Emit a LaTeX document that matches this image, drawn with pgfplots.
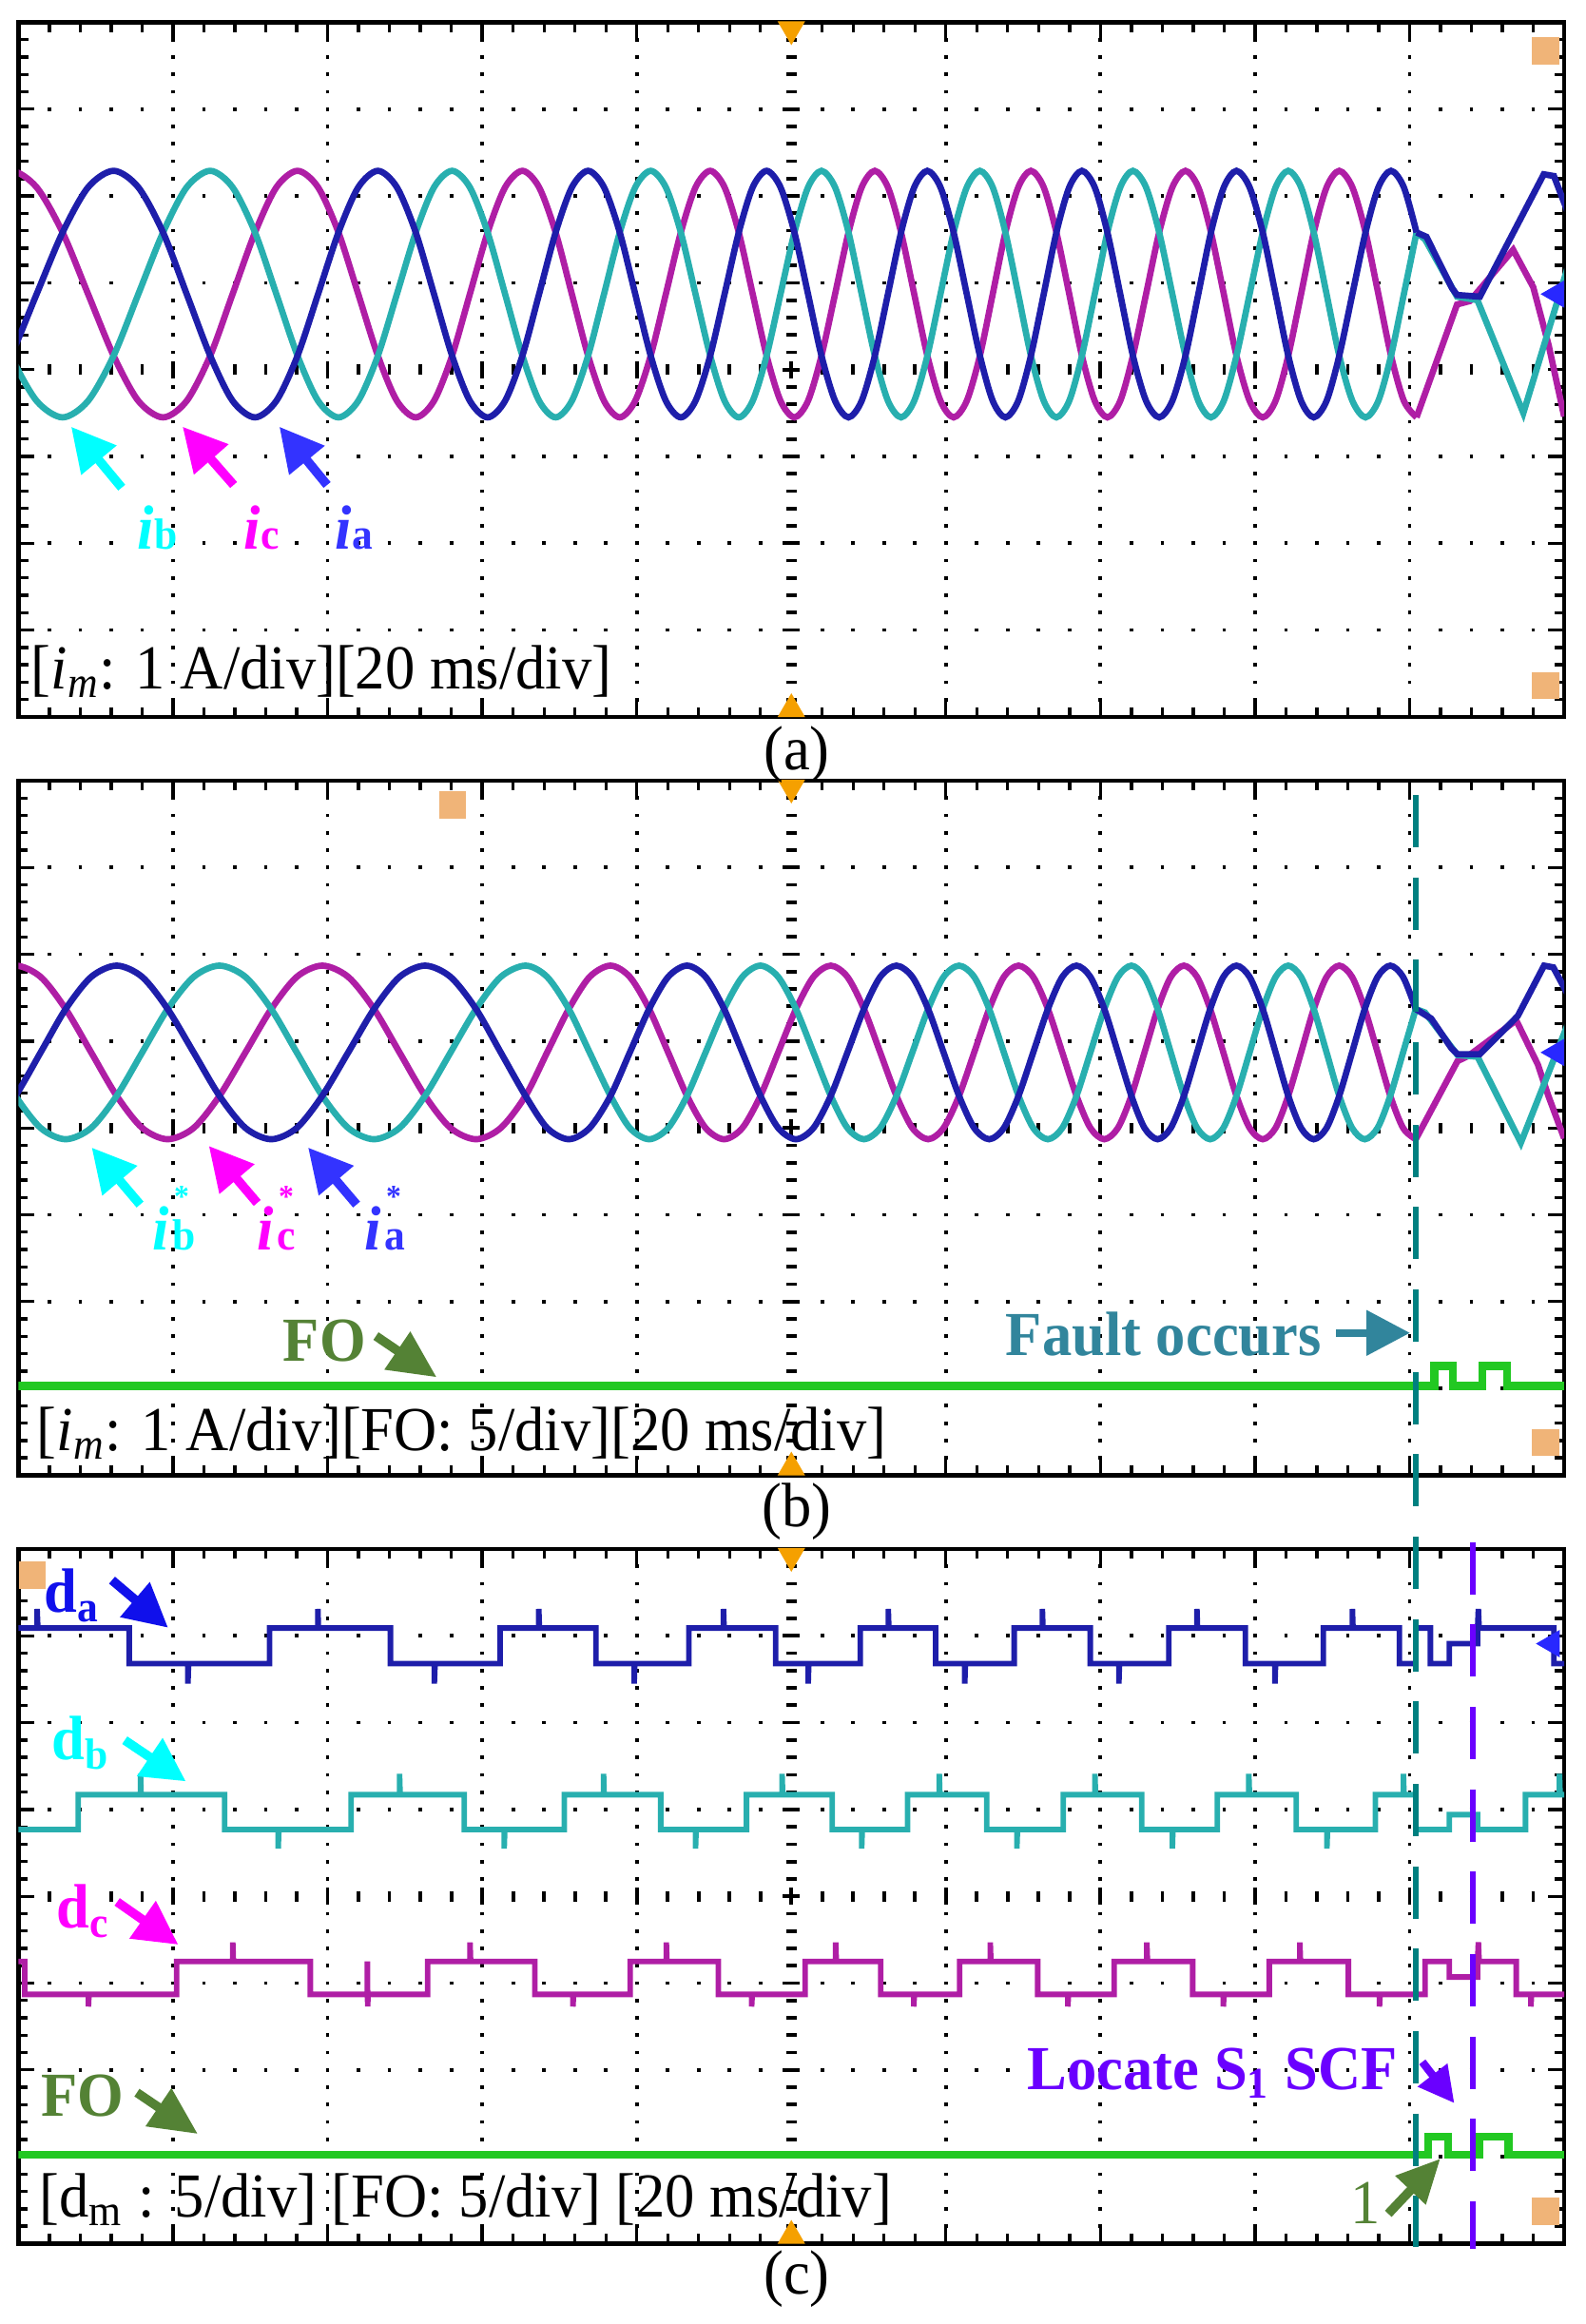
\documentclass[border=0pt]{standalone}
\usepackage{pgfplots}
\pgfplotsset{compat=1.18}
\usepackage{pgfplotstable}
\usetikzlibrary{arrows.meta}
\usepackage{fontspec}
\setmainfont{Liberation Serif}[FakeStretch=0.95]
\newcommand\fsz{\fontsize{15.8}{18}\selectfont}
\newcommand\ssz{\fontsize{11}{12}\selectfont}
\newcommand\tsz{\fontsize{8}{9}\selectfont}
\definecolor{tra}{RGB}{30,30,170}
\definecolor{trb}{RGB}{40,175,175}
\definecolor{trc}{RGB}{175,30,165}
\definecolor{fo}{RGB}{34,200,34}
\definecolor{lbla}{RGB}{51,51,255}
\definecolor{lblb}{RGB}{0,255,255}
\definecolor{lblc}{RGB}{255,0,255}
\definecolor{dla}{RGB}{16,16,235}
\definecolor{olivec}{RGB}{84,130,53}
\definecolor{faultc}{RGB}{49,133,156}
\definecolor{teald}{RGB}{0,128,128}
\definecolor{purp}{RGB}{106,0,255}
\definecolor{orng}{RGB}{245,160,0}
\definecolor{lorng}{RGB}{240,180,120}
\definecolor{gmark}{RGB}{40,40,255}

\pgfplotstableread{
t a b c
-0.22 3.64 4.87 6.10
-0.05 4.16 4.16 6.29
0.117 4.87 3.64 6.10
0.285 5.58 3.45 5.58
0.45 6.10 3.64 4.87
0.615 6.29 4.16 4.16
0.775 6.10 4.87 3.64
0.935 5.58 5.58 3.45
1.088 4.87 6.10 3.64
1.24 4.16 6.29 4.16
1.385 3.64 6.10 4.87
1.53 3.45 5.58 5.58
1.668 3.64 4.87 6.10
1.805 4.16 4.16 6.29
1.938 4.87 3.64 6.10
2.07 5.58 3.45 5.58
2.198 6.10 3.64 4.87
2.325 6.29 4.16 4.16
2.448 6.10 4.87 3.64
2.57 5.58 5.58 3.45
2.688 4.87 6.10 3.64
2.805 4.16 6.29 4.16
2.92 3.64 6.10 4.87
3.035 3.45 5.58 5.58
3.148 3.64 4.87 6.10
3.26 4.16 4.16 6.29
3.368 4.87 3.64 6.10
3.475 5.58 3.45 5.58
3.58 6.10 3.64 4.87
3.685 6.29 4.16 4.16
3.788 6.10 4.87 3.64
3.89 5.58 5.58 3.45
3.99 4.87 6.10 3.64
4.09 4.16 6.29 4.16
4.188 3.64 6.10 4.87
4.285 3.45 5.58 5.58
4.38 3.64 4.87 6.10
4.475 4.16 4.16 6.29
4.568 4.87 3.64 6.10
4.66 5.58 3.45 5.58
4.75 6.10 3.64 4.87
4.84 6.29 4.16 4.16
4.93 6.10 4.87 3.64
5.02 5.58 5.58 3.45
5.108 4.87 6.10 3.64
5.195 4.16 6.29 4.16
5.283 3.64 6.10 4.87
5.37 3.45 5.58 5.58
5.455 3.64 4.87 6.10
5.54 4.16 4.16 6.29
5.625 4.87 3.64 6.10
5.71 5.58 3.45 5.58
5.795 6.10 3.64 4.87
5.88 6.29 4.16 4.16
5.965 6.10 4.87 3.64
6.05 5.58 5.58 3.45
6.135 4.87 6.10 3.64
6.22 4.16 6.29 4.16
6.303 3.64 6.10 4.87
6.385 3.45 5.58 5.58
6.468 3.64 4.87 6.10
6.55 4.16 4.16 6.29
6.633 4.87 3.64 6.10
6.715 5.58 3.45 5.58
6.798 6.10 3.64 4.87
6.88 6.29 4.16 4.16
6.963 6.10 4.87 3.64
7.045 5.58 5.58 3.45
7.128 4.87 6.10 3.64
7.21 4.16 6.29 4.16
7.295 3.64 6.10 4.87
7.38 3.45 5.58 5.58
7.465 3.64 4.87 6.10
7.55 4.16 4.16 6.29
7.633 4.87 3.64 6.10
7.715 5.58 3.45 5.58
7.798 6.10 3.64 4.87
7.88 6.29 4.16 4.16
7.965 6.10 4.87 3.64
8.05 5.58 5.58 3.45
8.133 4.87 6.10 3.64
8.215 4.16 6.29 4.16
8.298 3.64 6.10 4.87
8.38 3.45 5.58 5.58
8.463 3.64 4.87 6.10
8.545 4.16 4.16 6.29
8.63 4.87 3.64 6.10
8.715 5.58 3.45 5.58
8.798 6.10 3.64 4.87
8.88 6.29 4.16 4.16
8.963 6.10 4.87 3.64
9.045 5.58 5.58 3.45
}\tabA

\pgfplotstableread{
t a b c
-0.185 4.00 4.87 5.74
-0.02 4.37 4.37 5.87
0.143 4.87 4.00 5.74
0.305 5.37 3.87 5.37
0.47 5.74 4.00 4.87
0.635 5.87 4.37 4.37
0.80 5.74 4.87 4.00
0.965 5.37 5.37 3.87
1.133 4.87 5.74 4.00
1.30 4.37 5.87 4.37
1.468 4.00 5.74 4.87
1.635 3.87 5.37 5.37
1.80 4.00 4.87 5.74
1.965 4.37 4.37 5.87
2.133 4.87 4.00 5.74
2.30 5.37 3.87 5.37
2.465 5.74 4.00 4.87
2.63 5.87 4.37 4.37
2.795 5.74 4.87 4.00
2.96 5.37 5.37 3.87
3.12 4.87 5.74 4.00
3.28 4.37 5.87 4.37
3.42 4.00 5.74 4.87
3.56 3.87 5.37 5.37
3.695 4.00 4.87 5.74
3.83 4.37 4.37 5.87
3.955 4.87 4.00 5.74
4.08 5.37 3.87 5.37
4.203 5.74 4.00 4.87
4.325 5.87 4.37 4.37
4.445 5.74 4.87 4.00
4.565 5.37 5.37 3.87
4.683 4.87 5.74 4.00
4.80 4.37 5.87 4.37
4.915 4.00 5.74 4.87
5.03 3.87 5.37 5.37
5.143 4.00 4.87 5.74
5.255 4.37 4.37 5.87
5.363 4.87 4.00 5.74
5.47 5.37 3.87 5.37
5.575 5.74 4.00 4.87
5.68 5.87 4.37 4.37
5.783 5.74 4.87 4.00
5.885 5.37 5.37 3.87
5.985 4.87 5.74 4.00
6.085 4.37 5.87 4.37
6.183 4.00 5.74 4.87
6.28 3.87 5.37 5.37
6.375 4.00 4.87 5.74
6.47 4.37 4.37 5.87
6.565 4.87 4.00 5.74
6.66 5.37 3.87 5.37
6.753 5.74 4.00 4.87
6.845 5.87 4.37 4.37
6.935 5.74 4.87 4.00
7.025 5.37 5.37 3.87
7.113 4.87 5.74 4.00
7.20 4.37 5.87 4.37
7.285 4.00 5.74 4.87
7.37 3.87 5.37 5.37
7.455 4.00 4.87 5.74
7.54 4.37 4.37 5.87
7.625 4.87 4.00 5.74
7.71 5.37 3.87 5.37
7.795 5.74 4.00 4.87
7.88 5.87 4.37 4.37
7.965 5.74 4.87 4.00
8.05 5.37 5.37 3.87
8.133 4.87 5.74 4.00
8.215 4.37 5.87 4.37
8.298 4.00 5.74 4.87
8.38 3.87 5.37 5.37
8.463 4.00 4.87 5.74
8.545 4.37 4.37 5.87
8.628 4.87 4.00 5.74
8.71 5.37 3.87 5.37
8.793 5.74 4.00 4.87
8.875 5.87 4.37 4.37
8.958 5.74 4.87 4.00
9.04 5.37 5.37 3.87
}\tabB

\pgfplotsset{osc/.style={scale only axis, width=390.12pt, height=175.3pt,
  xmin=0, xmax=10, ymin=0, ymax=8,
  xtick={0,...,10}, ytick={0,...,8}, minor x tick num=4, minor y tick num=4,
  xticklabels={}, yticklabels={}, tick align=inside, tick pos=both,
  major tick length=4pt, minor tick length=2.4pt,
  tick style={black, line width=0.8pt},
  axis line style={line width=1.1pt, black},
  anchor=north west}}

\newcommand\oscgrid{%
 \pgfplotsinvokeforeach{1,2,3,4,6,7,8,9}{\draw[line width=0.9pt, dash pattern=on 0.9pt off 3.4825pt, dash phase=0.45pt] (axis cs:##1,0) -- (axis cs:##1,8);}
 \pgfplotsinvokeforeach{1,2,3,5,6,7}{\draw[line width=0.9pt, dash pattern=on 0.9pt off 6.9024pt, dash phase=0.45pt] (axis cs:0,##1) -- (axis cs:10,##1);}
 \draw[line width=2.6pt, dash pattern=on 0.9pt off 6.9024pt, dash phase=0.45pt] (axis cs:0,4) -- (axis cs:10,4);
 \draw[line width=4.4pt, dash pattern=on 0.9pt off 38.112pt, dash phase=0.45pt] (axis cs:0,4) -- (axis cs:10,4);
 \draw[line width=2.6pt, dash pattern=on 0.9pt off 3.4825pt, dash phase=0.45pt] (axis cs:5,0) -- (axis cs:5,8);
 \draw[line width=4.4pt, dash pattern=on 0.9pt off 21.0125pt, dash phase=0.45pt] (axis cs:5,0) -- (axis cs:5,8);
}
\pgfplotsset{
 trig/.style={only marks, mark=triangle*, mark size=3.6pt, mark options={fill=orng, draw=orng}},
 trigd/.style={only marks, mark=triangle*, mark size=3.6pt, mark options={fill=orng, draw=orng, rotate=180}},
 boxm/.style={only marks, mark=square*, mark size=3.2pt, mark options={fill=lorng, draw=lorng}},
 gnd/.style={only marks, mark=triangle*, mark size=3.6pt, mark options={fill=gmark, draw=gmark, rotate=90}},
}

\begin{document}
\begin{tikzpicture}
\path[use as bounding box] (0,0) rectangle (400.08pt,-586.56pt);

% ---------------- panel (a)
\begin{axis}[osc, at={(4.68pt,-5.64pt)}]
\oscgrid
\addplot[trc, line width=1.6pt, smooth] table[x=t,y=c]{\tabA};
\addplot[trc, line width=1.6pt] coordinates {(9.045,3.45)(9.307,4.75)(9.39,4.79)(9.67,5.38)(9.80,4.95)(9.90,4.28)(10.0,3.46)};
\addplot[trb, line width=1.6pt, smooth] table[x=t,y=b]{\tabA};
\addplot[trb, line width=1.6pt] coordinates {(9.045,5.58)(9.10,5.50)(9.307,4.84)(9.439,4.80)(9.736,3.50)(10.02,5.16)};
\addplot[tra, line width=1.6pt, smooth] table[x=t,y=a]{\tabA};
\addplot[tra, line width=1.6pt] coordinates {(9.045,5.58)(9.109,5.53)(9.274,4.94)(9.307,4.86)(9.455,4.84)(9.868,6.25)(9.934,6.23)(10.02,5.83)};
\addplot[trigd] coordinates {(5,7.92)};
\addplot[trig] coordinates {(5,0.09)};
\addplot[boxm] coordinates {(9.88,7.67)(9.88,0.36)};
\addplot[gnd] coordinates {(9.95,4.87)};
\end{axis}

% ---------------- panel (b)
\begin{axis}[osc, at={(4.68pt,-197.04pt)}]
\oscgrid
\addplot[trc, line width=1.6pt, smooth] table[x=t,y=c]{\tabB};
\addplot[trc, line width=1.6pt] coordinates {(9.04,3.87)(9.31,4.77)(9.38,4.83)(9.69,5.24)(9.83,4.73)(9.90,4.36)(10.0,3.88)};
\addplot[trb, line width=1.6pt, smooth] table[x=t,y=b]{\tabB};
\addplot[trb, line width=1.6pt] coordinates {(9.04,5.37)(9.10,5.33)(9.31,4.84)(9.44,4.82)(9.72,3.83)(10.02,5.18)};
\addplot[tra, line width=1.6pt, smooth] table[x=t,y=a]{\tabB};
\addplot[tra, line width=1.6pt] coordinates {(9.04,5.37)(9.14,5.26)(9.27,4.92)(9.31,4.85)(9.455,4.85)(9.70,5.29)(9.87,5.87)(9.93,5.85)(10.02,5.55)};
\addplot[fo, line width=2pt] coordinates {(0,1.03)(9.16,1.03)(9.16,1.26)(9.28,1.26)(9.28,1.03)(9.47,1.03)(9.47,1.26)(9.63,1.26)(9.63,1.03)(10,1.03)};
\addplot[trigd] coordinates {(5,7.92)};
\addplot[trig] coordinates {(5,0.09)};
\addplot[boxm] coordinates {(2.81,7.72)(9.88,0.38)};
\addplot[gnd] coordinates {(9.95,4.87)};
\end{axis}

% ---------------- panel (c)
\begin{axis}[osc, at={(4.68pt,-390.96pt)}]
\oscgrid
\addplot[tra, line width=1.4pt] coordinates {(0,7.09)(0.12,7.09)(0.12,7.31)(0.125,7.09)(0.716,7.09)(0.716,6.68)(1.096,6.68)(1.096,6.45)(1.10,6.68)(1.624,6.68)(1.624,7.09)(1.937,7.09)(1.937,7.31)(1.94,7.09)(2.406,7.09)(2.406,6.68)(2.69,6.68)(2.69,6.45)(2.695,6.68)(3.116,6.68)(3.116,7.09)(3.366,7.09)(3.366,7.31)(3.37,7.09)(3.736,7.09)(3.736,6.68)(3.983,6.68)(3.983,6.45)(3.987,6.68)(4.337,6.68)(4.337,7.09)(4.561,7.09)(4.561,7.31)(4.565,7.09)(4.898,7.09)(4.898,6.68)(5.109,6.68)(5.109,6.45)(5.113,6.68)(5.446,6.68)(5.446,7.09)(5.627,7.09)(5.627,7.31)(5.631,7.09)(5.934,7.09)(5.934,6.68)(6.122,6.68)(6.122,6.45)(6.126,6.68)(6.442,6.68)(6.442,7.09)(6.624,7.09)(6.624,7.31)(6.628,7.09)(6.934,7.09)(6.934,6.68)(7.119,6.68)(7.119,6.45)(7.123,6.68)(7.442,6.68)(7.442,7.09)(7.624,7.09)(7.624,7.31)(7.628,7.09)(7.937,7.09)(7.937,6.68)(8.129,6.68)(8.129,6.45)(8.133,6.68)(8.442,6.68)(8.442,7.09)(8.63,7.09)(8.63,7.31)(8.634,7.09)(8.934,7.09)(8.934,6.68)(9.04,6.68)(9.04,7.09)(9.135,7.09)(9.135,6.68)(9.257,6.68)(9.257,6.91)(9.44,6.91)(9.44,7.09)(9.445,7.31)(9.45,7.09)(9.934,7.09)(9.934,6.68)(10,6.68)};
\addplot[trb, line width=1.4pt] coordinates {(0,4.77)(0.386,4.77)(0.386,5.17)(0.789,5.17)(0.789,5.41)(0.793,5.17)(1.333,5.17)(1.333,4.77)(1.68,4.77)(1.68,4.55)(1.684,4.77)(2.152,4.77)(2.152,5.17)(2.465,5.17)(2.465,5.41)(2.469,5.17)(2.884,5.17)(2.884,4.77)(3.142,4.77)(3.142,4.55)(3.146,4.77)(3.531,4.77)(3.531,5.17)(3.785,5.17)(3.785,5.41)(3.789,5.17)(4.155,5.17)(4.155,4.77)(4.38,4.77)(4.38,4.55)(4.384,4.77)(4.71,4.77)(4.71,5.17)(4.94,5.17)(4.94,5.41)(4.944,5.17)(5.264,5.17)(5.264,4.77)(5.455,4.77)(5.455,4.55)(5.459,4.77)(5.752,4.77)(5.752,5.17)(5.957,5.17)(5.957,5.41)(5.961,5.17)(6.264,5.17)(6.264,4.77)(6.459,4.77)(6.459,4.55)(6.463,4.77)(6.759,4.77)(6.759,5.17)(6.964,5.17)(6.964,5.41)(6.968,5.17)(7.267,5.17)(7.267,4.77)(7.465,4.77)(7.465,4.55)(7.469,4.77)(7.756,4.77)(7.756,5.17)(7.96,5.17)(7.96,5.41)(7.964,5.17)(8.267,5.17)(8.267,4.77)(8.465,4.77)(8.465,4.55)(8.469,4.77)(8.779,4.77)(8.779,5.17)(8.96,5.17)(8.96,5.41)(8.964,5.17)(9.04,5.17)(9.04,4.77)(9.257,4.77)(9.257,4.94)(9.44,4.94)(9.44,4.77)(9.75,4.77)(9.75,5.17)(9.97,5.17)(9.97,5.41)(9.974,5.17)(10,5.17)};
\addplot[trc, line width=1.4pt] coordinates {(0,3.25)(0.04,3.25)(0.04,2.87)(0.452,2.87)(0.452,2.73)(0.456,2.87)(1.023,2.87)(1.023,3.25)(1.386,3.25)(1.386,3.47)(1.39,3.25)(1.888,3.25)(1.888,2.87)(2.257,2.87)(2.257,3.25)(2.259,2.73)(2.261,2.87)(2.647,2.87)(2.647,3.25)(2.921,3.25)(2.921,3.47)(2.925,3.25)(3.34,3.25)(3.34,2.87)(3.587,2.87)(3.587,2.73)(3.591,2.87)(3.957,2.87)(3.957,3.25)(4.191,3.25)(4.191,3.47)(4.195,3.25)(4.528,3.25)(4.528,2.87)(4.743,2.87)(4.743,2.73)(4.747,2.87)(5.089,2.87)(5.089,3.25)(5.287,3.25)(5.287,3.47)(5.291,3.25)(5.578,3.25)(5.578,2.87)(5.792,2.87)(5.792,2.73)(5.796,2.87)(6.089,2.87)(6.089,3.25)(6.287,3.25)(6.287,3.47)(6.291,3.25)(6.594,3.25)(6.594,2.87)(6.789,2.87)(6.789,2.73)(6.793,2.87)(7.089,2.87)(7.089,3.25)(7.30,3.25)(7.30,3.47)(7.304,3.25)(7.597,3.25)(7.597,2.87)(7.795,2.87)(7.795,2.73)(7.799,2.87)(8.092,2.87)(8.092,3.25)(8.29,3.25)(8.29,3.47)(8.294,3.25)(8.604,3.25)(8.604,2.87)(8.805,2.87)(8.805,2.73)(8.809,2.87)(9.10,2.87)(9.10,3.25)(9.257,3.25)(9.257,3.07)(9.44,3.07)(9.44,3.25)(9.445,3.47)(9.45,3.25)(9.69,3.25)(9.69,2.87)(9.785,2.87)(9.785,2.73)(9.789,2.87)(10,2.87)};
\addplot[fo, line width=2pt] coordinates {(0,1.02)(9.12,1.02)(9.12,1.23)(9.25,1.23)(9.25,1.02)(9.45,1.02)(9.45,1.23)(9.64,1.23)(9.64,1.02)(10,1.02)};
\addplot[trigd] coordinates {(5,7.92)};
\addplot[trig] coordinates {(5,0.09)};
\addplot[boxm] coordinates {(0.09,7.70)(9.88,0.37)};
\addplot[gnd] coordinates {(9.92,6.91)};
\end{axis}

% ---------------- annotations (coordinates in source pixels)
\begin{scope}[x=0.24pt,y=-0.24pt]
% dashed markers
\draw[teald, line width=1.5pt, dash pattern=on 13.2pt off 7.6pt] (1488.9,836) -- (1488.9,2363);
\draw[purp, line width=1.5pt, dash pattern=on 13.2pt off 7.6pt] (1549,1621.6) -- (1549,2365);

% panel captions
\node[anchor=base, inner sep=0, font=\fsz] at (838,809) {(a)};
\node[anchor=base, inner sep=0, font=\fsz] at (838,1605) {(b)};
\node[anchor=base, inner sep=0, font=\fsz] at (838,2412) {(c)};

% scale texts
\node[anchor=base west, inner sep=0, font=\fsz] at (32,724) {[\textit{i}\textsubscript{\textit{m}}: 1 A/div][20 ms/div]};
\node[anchor=base west, inner sep=0, font=\fsz] at (38,1525) {[\textit{i}\textsubscript{\textit{m}}: 1 A/div][FO: 5/div][20 ms/div]};
\node[anchor=base west, inner sep=0, font=\fsz] at (41,2331) {[d\textsubscript{m} : 5/div] [FO: 5/div] [20 ms/div]};

% panel (a) current labels and arrows
\draw[lblb, line width=2.3pt, -{Triangle[length=11pt,width=11pt]}] (128,512.8) -- (74.8,448.7);
\draw[lblc, line width=2.3pt, -{Triangle[length=11pt,width=11pt]}] (245.7,510) -- (192,448.7);
\draw[lbla, line width=2.3pt, -{Triangle[length=11pt,width=11pt]}] (344,510) -- (293.8,448.7);
\node[anchor=base west, inner sep=0, text=lblb, font=\fsz\bfseries] at (144,577) {\textit{i}{\ssz b}};
\node[anchor=base west, inner sep=0, text=lblc, font=\fsz\bfseries] at (256,577) {\textit{i}{\ssz c}};
\node[anchor=base west, inner sep=0, text=lbla, font=\fsz\bfseries] at (352,577) {\textit{i}{\ssz a}};

% panel (b) reference labels and arrows
\draw[lblb, line width=2.3pt, -{Triangle[length=11pt,width=11pt]}] (147.3,1266.7) -- (96.4,1206.7);
\draw[lblc, line width=2.3pt, -{Triangle[length=11pt,width=11pt]}] (270.5,1265) -- (219.6,1205);
\draw[lbla, line width=2.3pt, -{Triangle[length=11pt,width=11pt]}] (375,1266.7) -- (324,1206.7);
\node[anchor=base west, inner sep=0, text=lblb, font=\fsz\bfseries\itshape] (ib) at (160,1314) {i};
\node[anchor=base west, inner sep=0, text=lblb, font=\ssz\bfseries] at ([xshift=0.3pt]ib.base east) {b};
\node[anchor=base west, inner sep=0, text=lblb, font=\tsz\bfseries] at ([xshift=0.8pt,yshift=10.8pt]ib.base east) {*};
\node[anchor=base west, inner sep=0, text=lblc, font=\fsz\bfseries\itshape] (ic) at (270,1314) {i};
\node[anchor=base west, inner sep=0, text=lblc, font=\ssz\bfseries] at ([xshift=0.3pt]ic.base east) {c};
\node[anchor=base west, inner sep=0, text=lblc, font=\tsz\bfseries] at ([xshift=0.8pt,yshift=10.8pt]ic.base east) {*};
\node[anchor=base west, inner sep=0, text=lbla, font=\fsz\bfseries\itshape] (ia) at (383,1314) {i};
\node[anchor=base west, inner sep=0, text=lbla, font=\ssz\bfseries] at ([xshift=0.3pt]ia.base east) {a};
\node[anchor=base west, inner sep=0, text=lbla, font=\tsz\bfseries] at ([xshift=0.8pt,yshift=10.8pt]ia.base east) {*};

% FO (b) and fault
\node[anchor=base west, inner sep=0, text=olivec, font=\fsz\bfseries] at (297,1431.7) {FO};
\draw[olivec, line width=2.3pt, -{Triangle[length=12pt,width=11pt]}] (395.4,1405) -- (459.2,1448.3);
\node[anchor=base west, inner sep=0, text=faultc, font=\fsz\bfseries] at (1057,1425) {Fault occurs};
\draw[faultc, line width=2pt, -{Triangle[length=11pt,width=11pt]}] (1405,1401.7) -- (1483,1401.7);

% panel (c) labels
\node[anchor=base west, inner sep=0, text=dla, font=\fsz\bfseries] at (45.5,1695) {d\raisebox{-2.4pt}{\ssz a}};
\draw[dla, line width=2.3pt, -{Triangle[length=11pt,width=11pt]}] (117.8,1661.7) -- (176.8,1711.7);
\node[anchor=base west, inner sep=0, text=lblb, font=\fsz\bfseries] at (53.6,1850) {d\raisebox{-2.4pt}{\ssz b}};
\draw[lblb, line width=2.3pt, -{Triangle[length=11pt,width=11pt]}] (131.2,1830) -- (195.5,1873.3);
\node[anchor=base west, inner sep=0, text=lblc, font=\fsz\bfseries] at (59,2027) {d\raisebox{-2.4pt}{\ssz c}};
\draw[lblc, line width=2.3pt, -{Triangle[length=11pt,width=11pt]}] (123.2,2000) -- (187.5,2045);
\node[anchor=base west, inner sep=0, text=olivec, font=\fsz\bfseries] at (42.7,2225) {FO};
\draw[olivec, line width=2.3pt, -{Triangle[length=12pt,width=11pt]}] (144,2200.6) -- (208,2244);
\node[anchor=base west, inner sep=0, text=purp, font=\fsz\bfseries] at (1080,2197) {Locate S\textsubscript{1} SCF};
\draw[purp, line width=2pt, -{Triangle[length=9pt,width=9pt]}] (1495.8,2168.3) -- (1529.5,2211.7);
\node[anchor=base west, inner sep=0, text=olivec, font=\fsz] at (1420,2338) {1};
\draw[olivec, line width=2.3pt, -{Triangle[length=11pt,width=10pt]}] (1460,2328) -- (1514.8,2270);
\end{scope}
\end{tikzpicture}
\end{document}
